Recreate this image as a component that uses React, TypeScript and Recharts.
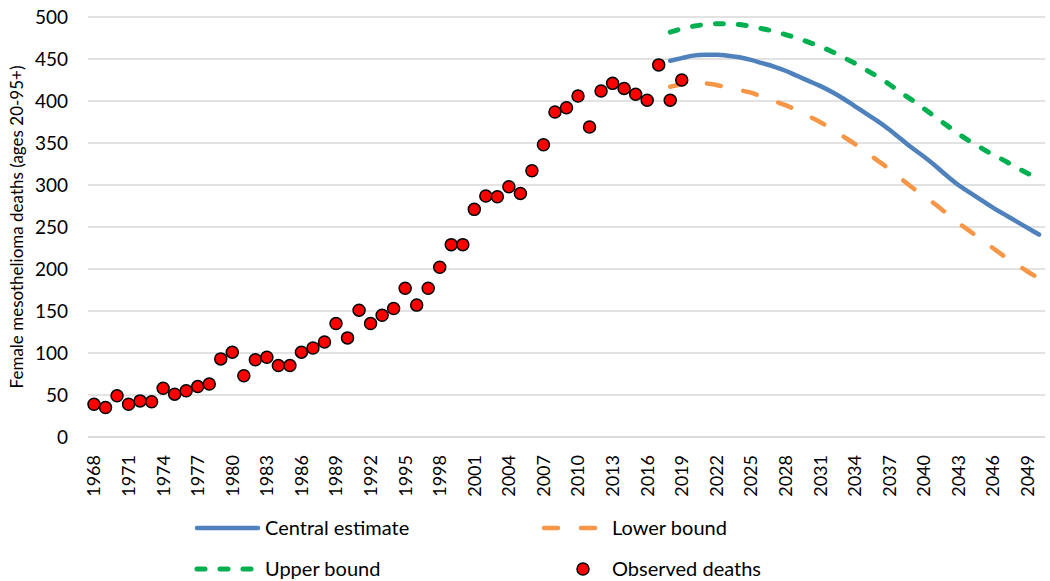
import React from "react";
import { CartesianGrid, ComposedChart, Line, XAxis, YAxis } from "recharts";

const years = [
  1968, 1969, 1970, 1971, 1972, 1973, 1974, 1975, 1976, 1977, 1978, 1979, 1980,
  1981, 1982, 1983, 1984, 1985, 1986, 1987, 1988, 1989, 1990, 1991, 1992, 1993,
  1994, 1995, 1996, 1997, 1998, 1999, 2000, 2001, 2002, 2003, 2004, 2005, 2006,
  2007, 2008, 2009, 2010, 2011, 2012, 2013, 2014, 2015, 2016, 2017, 2018, 2019,
  2020, 2021, 2022, 2023, 2024, 2025, 2026, 2027, 2028, 2029, 2030, 2031, 2032,
  2033, 2034, 2035, 2036, 2037, 2038, 2039, 2040, 2041, 2042, 2043, 2044, 2045,
  2046, 2047, 2048, 2049, 2050,
];

// observed deaths, 1968-2019
const observed = [
  39, 35, 49, 39, 43, 42, 58, 51, 55, 60, 63, 93, 101, 73, 92, 95, 85, 85, 101,
  106, 113, 135, 118, 151, 135, 145, 153, 177, 157, 177, 202, 229, 229, 271,
  287, 286, 298, 290, 317, 348, 387, 392, 406, 369, 412, 421, 415, 408, 401,
  443, 401, 425,
];

// projections, 2018-2050
const projStart = 2018;
const central = [
  448, 451, 454, 455, 455, 454, 452, 449, 445, 441, 436, 430, 424, 418, 411,
  403, 394, 385, 376, 366, 355, 344, 334, 323, 311, 300, 291, 282, 273, 265,
  257, 249, 241,
];
const lower = [
  417, 420, 421, 421, 419, 416, 413, 410, 405, 400, 395, 389, 382, 375, 367,
  358, 349, 339, 329, 319, 308, 297, 287, 277, 266, 255, 245, 235, 225, 215,
  206, 197, 189,
];
const upper = [
  482, 486, 489, 491, 492, 492, 491, 489, 486, 483, 479, 475, 470, 465, 459,
  452, 445, 437, 429, 420, 410, 401, 391, 381, 371, 361, 352, 344, 336, 329,
  321, 314, 307,
];

const yTicks = [0, 50, 100, 150, 200, 250, 300, 350, 400, 450, 500];

const data = years.map((year, i) => {
  const p = year - projStart;
  return {
    year,
    observed: i < observed.length ? observed[i] : null,
    central: p >= 0 ? central[p] : null,
    lower: p >= 0 ? lower[p] : null,
    upper: p >= 0 ? upper[p] : null,
  };
});

const FONT = "Lato, 'Open Sans', sans-serif";

const YearTick = (props: any) => {
  const { x, y, payload } = props;
  return (
    <text
      x={x}
      y={y + 10}
      transform={`rotate(-90 ${x} ${y + 10})`}
      textAnchor="end"
      dy="0.36em"
      fill="#000"
      fontSize={18}
      fontFamily={FONT}
    >
      {payload.value}
    </text>
  );
};

const LegendBox = () => (
  <svg
    width={1050}
    height={80}
    style={{ position: "absolute", left: 0, top: 505 }}
    fontFamily={FONT}
    fontSize={20}
  >
    <line x1={197} x2={258} y1={23} y2={23} stroke="#4f81bd" strokeWidth={4.5} strokeLinecap="round" />
    <text x={265} y={23} dy="0.35em">Central estimate</text>
    <line x1={544} x2={605} y1={23} y2={23} stroke="#f79646" strokeWidth={4.5} strokeLinecap="round" strokeDasharray="14 23" />
    <text x={612} y={23} dy="0.35em">Lower bound</text>
    <line x1={197} x2={254} y1={64} y2={64} stroke="#00b050" strokeWidth={5} strokeLinecap="round" strokeDasharray="8 15" />
    <text x={265} y={64} dy="0.35em">Upper bound</text>
    <circle cx={583} cy={64} r={6} fill="#ff0000" stroke="#000" strokeWidth={1.5} />
    <text x={612} y={64} dy="0.35em">Observed deaths</text>
  </svg>
);

export default function App() {
  return (
    <div style={{ position: "absolute", left: 0, top: 0, width: 1050, height: 581, background: "#fff" }}>
      <ComposedChart
        width={1050}
        height={581}
        data={data}
        margin={{ top: 17, right: 5, left: 0, bottom: 0 }}
      >
        <CartesianGrid vertical={false} stroke="#d9d9d9" strokeWidth={1.5} />
        <XAxis
          dataKey="year"
          interval={2}
          tickLine={false}
          axisLine={{ stroke: "#d9d9d9", strokeWidth: 1.5 }}
          height={144}
          padding={{ left: 6, right: 6 }}
          tick={<YearTick />}
        />
        <YAxis
          domain={[0, 500]}
          ticks={yTicks}
          width={88}
          axisLine={false}
          tickLine={false}
          tickMargin={14}
          tick={{ fill: "#000", fontSize: 19, fontFamily: FONT }}
          label={{
            content: () => (
              <text
                x={17}
                y={227}
                transform="rotate(-90 17 227)"
                textAnchor="middle"
                dy="0.35em"
                fontSize={17}
                fontFamily={FONT}
                fill="#000"
              >
                Female mesothelioma deaths (ages 20-95+)
              </text>
            ),
          }}
        />
        <Line
          dataKey="upper"
          stroke="#00b050"
          strokeWidth={5}
          strokeDasharray="8 15"
          strokeLinecap="round"
          dot={false}
          type="monotone"
          isAnimationActive={false}
        />
        <Line
          dataKey="lower"
          stroke="#f79646"
          strokeWidth={4.5}
          strokeDasharray="14 23"
          strokeLinecap="round"
          dot={false}
          type="monotone"
          isAnimationActive={false}
        />
        <Line
          dataKey="central"
          stroke="#4f81bd"
          strokeWidth={4.5}
          strokeLinecap="round"
          dot={false}
          type="monotone"
          isAnimationActive={false}
        />
        <Line
          dataKey="observed"
          stroke="none"
          dot={{ r: 6, fill: "#ff0000", stroke: "#000", strokeWidth: 1.5 }}
          activeDot={false}
          isAnimationActive={false}
        />
      </ComposedChart>
      <LegendBox />
    </div>
  );
}
